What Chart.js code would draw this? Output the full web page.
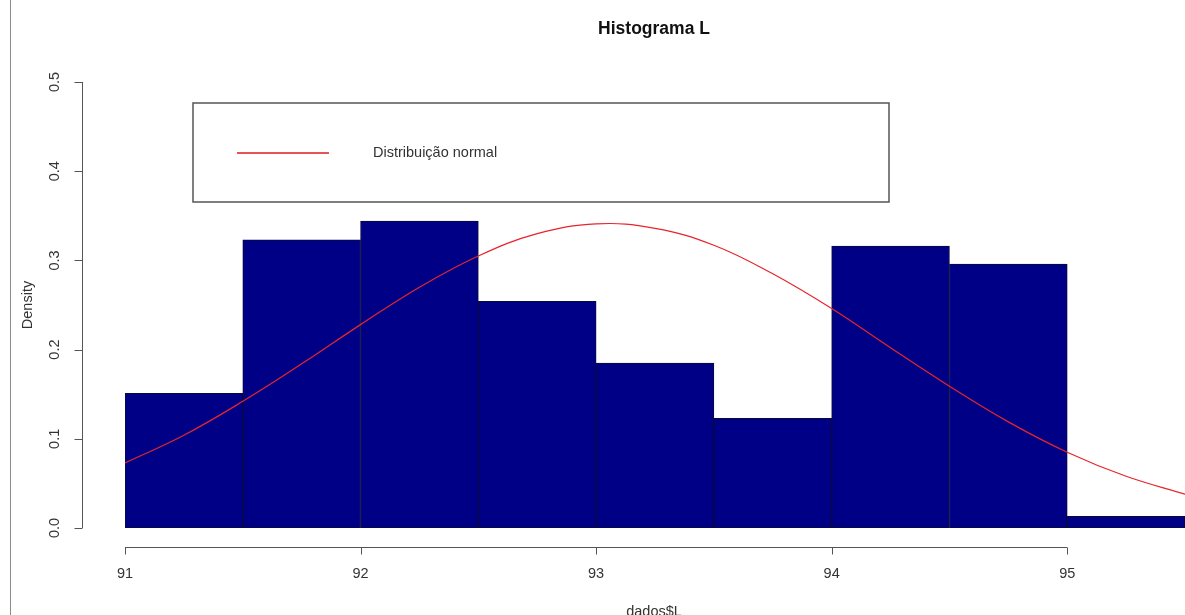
<!DOCTYPE html>
<html>
<head>
<meta charset="utf-8">
<script src="https://cdn.jsdelivr.net/npm/chart.js"></script>
<style>
  html, body { margin: 0; padding: 0; background: #fff; overflow: hidden; }
  #wrap { position: relative; width: 1185px; height: 615px; }
  #edge { position: absolute; left: 10px; top: 0; width: 1px; height: 615px; background: #8c8c8c; }
</style>
</head>
<body>
<div id="wrap">
  <canvas id="hist" width="1185" height="615"></canvas>
  <div id="edge"></div>
</div>
<script>
// histogram bins (width 0.5) and their densities
const binMid = [91.25, 91.75, 92.25, 92.75, 93.25, 93.75, 94.25, 94.75, 95.25];
const density = [0.151, 0.323, 0.344, 0.254, 0.185, 0.123, 0.316, 0.296, 0.013];

// fitted normal curve, sampled every 0.25
const curveX = [91, 91.25, 91.5, 91.75, 92, 92.25, 92.5, 92.75, 93, 93.25,
                93.5, 93.75, 94, 94.25, 94.5, 94.75, 95, 95.25, 95.5];
const curveY = [0.073, 0.104, 0.142, 0.184, 0.228, 0.270, 0.305, 0.330, 0.341, 0.336,
                0.317, 0.285, 0.246, 0.202, 0.159, 0.119, 0.085, 0.058, 0.038];

const xTicks = [91, 92, 93, 94, 95];
const yTicks = [0, 0.1, 0.2, 0.3, 0.4, 0.5];

const FONT = '"Liberation Sans", Arial, sans-serif';

// R-style detached axes, titles and legend box
const baseGraphics = {
  id: 'baseGraphics',
  afterDraw(chart) {
    const ctx = chart.ctx;
    const xs = chart.scales.x;
    const ys = chart.scales.y;
    const area = chart.chartArea;
    ctx.save();

    ctx.strokeStyle = '#555';
    ctx.lineWidth = 1;
    ctx.fillStyle = '#333';
    ctx.font = '14.5px ' + FONT;

    // x axis
    const axY = area.bottom + 19.5;
    ctx.beginPath();
    ctx.moveTo(xs.getPixelForValue(xTicks[0]), axY);
    ctx.lineTo(xs.getPixelForValue(xTicks[xTicks.length - 1]), axY);
    xTicks.forEach(v => {
      const px = Math.round(xs.getPixelForValue(v)) + 0.5;
      ctx.moveTo(px, axY);
      ctx.lineTo(px, axY + 7);
    });
    ctx.stroke();
    ctx.textAlign = 'center';
    ctx.textBaseline = 'middle';
    xTicks.forEach(v => ctx.fillText(String(v), xs.getPixelForValue(v), axY + 26));

    // y axis
    const axX = area.left - 42.5;
    ctx.beginPath();
    ctx.moveTo(axX, ys.getPixelForValue(yTicks[0]));
    ctx.lineTo(axX, ys.getPixelForValue(yTicks[yTicks.length - 1]));
    yTicks.forEach(v => {
      const py = Math.round(ys.getPixelForValue(v)) + 0.5;
      ctx.moveTo(axX, py);
      ctx.lineTo(axX - 8, py);
    });
    ctx.stroke();
    yTicks.forEach(v => {
      ctx.save();
      ctx.translate(55, ys.getPixelForValue(v));
      ctx.rotate(-Math.PI / 2);
      ctx.fillText(v.toFixed(1), 0, 0);
      ctx.restore();
    });

    // axis titles
    ctx.save();
    ctx.translate(28, (area.top + area.bottom) / 2);
    ctx.rotate(-Math.PI / 2);
    ctx.fillText('Density', 0, 0);
    ctx.restore();
    ctx.textBaseline = 'alphabetic';
    ctx.fillText('dados$L', 654, 616);

    // main title
    ctx.fillStyle = '#111';
    ctx.font = 'bold 17.5px ' + FONT;
    ctx.textBaseline = 'middle';
    ctx.fillText('Histograma L', 654, 29);

    // legend
    ctx.strokeStyle = '#555';
    ctx.lineWidth = 1.5;
    ctx.strokeRect(193, 103, 696, 99);
    ctx.strokeStyle = '#e31a1c';
    ctx.lineWidth = 1.5;
    ctx.beginPath();
    ctx.moveTo(237, 153);
    ctx.lineTo(329, 153);
    ctx.stroke();
    ctx.fillStyle = '#333';
    ctx.font = '14.5px ' + FONT;
    ctx.textAlign = 'left';
    ctx.fillText('Distribuição normal', 373, 153);

    ctx.restore();
  }
};

const data = {
  datasets: [
    {
      type: 'line',
      label: 'Distribuição normal',
      data: curveX.map((x, i) => ({ x: x, y: curveY[i] })),
      borderColor: '#e8242a',
      borderWidth: 1.2,
      pointRadius: 0,
      tension: 0.4,
      fill: false,
      order: 0
    },
    {
      type: 'bar',
      label: 'Density',
      data: binMid.map((x, i) => ({ x: x, y: density[i] })),
      backgroundColor: '#000087',
      borderColor: '#0a0a3a',
      borderWidth: 1,
      borderSkipped: false,
      barPercentage: 1,
      categoryPercentage: 1,
      order: 1
    }
  ]
};

const config = {
  type: 'bar',
  data: data,
  options: {
    responsive: false,
    animation: false,
    layout: { padding: { left: 125, right: 0, top: 82, bottom: 87 } },
    plugins: {
      legend: { display: false },
      tooltip: { enabled: false }
    },
    scales: {
      x: { type: 'linear', min: 91, max: 95.5, offset: false, display: false },
      y: { min: 0, max: 0.5, display: false }
    }
  },
  plugins: [baseGraphics]
};

const histChart = new Chart(document.getElementById('hist'), config);
</script>
</body>
</html>
